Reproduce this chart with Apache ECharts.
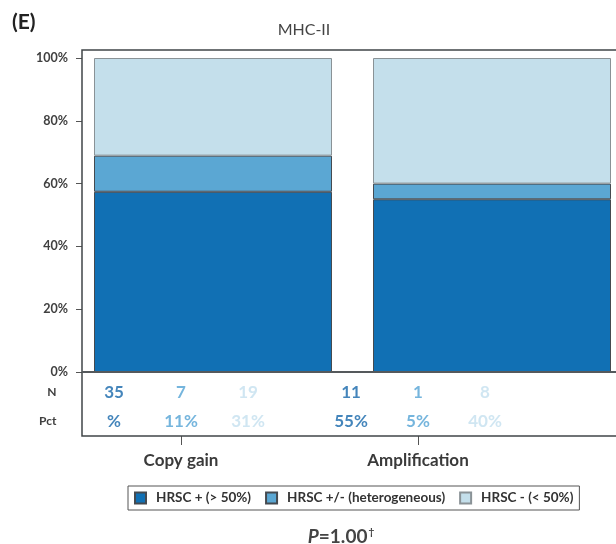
<!DOCTYPE html>
<html>
<head>
<meta charset="utf-8">
<script src="https://cdn.jsdelivr.net/npm/echarts@6/dist/echarts.min.js"></script>
<style>
  html, body { margin: 0; padding: 0; background: #fff; }
  #main { width: 616px; height: 544px; }
</style>
</head>
<body>
<div id="main"></div>
<script>
// MHC-II, HRSC staining by copy number group
var categories = ['Copy gain', 'Amplification'];
var seriesNames = ['HRSC + (> 50%)', 'HRSC +/- (heterogeneous)', 'HRSC - (< 50%)'];
var posPct = [57.4, 55];
var hetPct = [11.5, 5];
var negPct = [31.1, 40];
var posN = [35, 11];
var hetN = [7, 1];
var negN = [19, 8];
var posPctText = ['%', '55%'];
var hetPctText = ['11%', '5%'];
var negPctText = ['31%', '40%'];
var rows = ['N', 'Pct'];

var colors = ['#1170b4', '#5ba7d3', '#c4dfeb'];
var textColors = ['#1567aa', '#52a3d5', '#c4e0ef'];
var font = 'Lato, "Open Sans", sans-serif';

function tableData(nArr, pctArr) {
	var out = [];
	categories.forEach(function (c, i) {
		out.push({ name: String(nArr[i]), value: [c, 'N'] });
		out.push({ name: pctArr[i], value: [c, 'Pct'] });
	});
	return out;
}

function tableSeries(nArr, pctArr, color, dx) {
	return {
		type: 'scatter',
		xAxisIndex: 1,
		yAxisIndex: 1,
		symbolSize: 0,
		silent: true,
		data: tableData(nArr, pctArr),
		label: {
			show: true,
			position: 'inside',
			offset: [dx, 0],
			formatter: '{b}',
			color: color,
			fontFamily: font,
			fontWeight: 'bold',
			fontSize: 17
		}
	};
}

var barStyle = function (c) {
	return { color: c, borderColor: '#454a50', borderWidth: 1 };
};

var dom = document.getElementById('main');
var myChart = echarts.init(dom, null, { renderer: 'canvas' });
var option = {
	animation: false,
	textStyle: { fontFamily: font },
	title: [{
		text: 'MHC-II',
		left: 299,
		top: 17,
		textAlign: 'center',
		textStyle: { fontSize: 16, fontWeight: 'normal', color: '#444', fontFamily: font }
	}, {
		text: '(E)',
		left: 7,
		top: 7,
		textStyle: { fontSize: 21, fontWeight: 'bold', color: '#222', fontFamily: font }
	}, {
		text: '{i|P}{n|=1.00}{s|†}',
		left: 336,
		top: 522,
		textAlign: 'center',
		textStyle: {
			rich: {
				i: { fontSize: 19, fontStyle: 'italic', color: '#444', fontFamily: font },
				n: { fontSize: 19, color: '#444', fontFamily: font },
				s: { fontSize: 10, color: '#444', fontFamily: font, verticalAlign: 'top', padding: [0, 0, 9, 1] }
			}
		}
	}],
	legend: {
		data: seriesNames,
		left: 128,
		top: 486,
		icon: 'rect',
		itemWidth: 11,
		itemHeight: 11,
		itemGap: 14,
		borderColor: '#555',
		borderWidth: 1,
		padding: [5, 6, 5, 6],
		selectedMode: false,
		textStyle: { fontSize: 13.5, fontWeight: 'bold', color: '#333', fontFamily: font, padding: [0, 0, 0, 5] }
	},
	grid: [
		{ left: 213, top: 58, width: 279, height: 314 },
		{ left: 62.5, top: 378, width: 474, height: 58 }
	],
	xAxis: [{
		type: 'category',
		gridIndex: 0,
		data: categories,
		boundaryGap: false,
		axisLine: { show: false },
		axisTick: { show: false },
		axisLabel: { show: false }
	}, {
		type: 'category',
		gridIndex: 1,
		data: categories,
		axisLine: { show: false },
		axisTick: { show: true, alignWithLabel: true, length: 9, lineStyle: { color: '#555', width: 1 } },
		axisLabel: { margin: 16, fontSize: 17, fontWeight: 'bold', color: '#3a3a3a', fontFamily: font }
	}],
	yAxis: [{
		type: 'value',
		gridIndex: 0,
		min: 0,
		max: 100,
		interval: 20,
		offset: 131,
		splitLine: { show: false },
		axisLine: { show: false },
		axisTick: { show: true, length: 6, lineStyle: { color: '#555' } },
		axisLabel: { margin: 14, formatter: '{value}%', fontSize: 12.5, fontWeight: 'bold', color: '#404040', fontFamily: font }
	}, {
		type: 'category',
		gridIndex: 1,
		data: rows,
		inverse: true,
		axisLine: { show: false },
		axisTick: { show: false },
		axisLabel: { margin: 6, fontSize: 12, fontWeight: 'bold', color: '#404040', fontFamily: font }
	}],
	graphic: [{
		type: 'rect',
		shape: { x: 82, y: 50, width: 560, height: 386 },
		style: { fill: 'none', stroke: '#404548', lineWidth: 1.5 },
		z: 100
	}, {
		type: 'line',
		shape: { x1: 82, y1: 372, x2: 620, y2: 372 },
		style: { stroke: '#55595c', lineWidth: 2 },
		z: 100
	}],
	series: [{
		name: seriesNames[0],
		type: 'bar',
		stack: 'all',
		barWidth: 238,
		itemStyle: barStyle(colors[0]),
		data: posPct
	}, {
		name: seriesNames[1],
		type: 'bar',
		stack: 'all',
		barWidth: 238,
		itemStyle: barStyle(colors[1]),
		data: hetPct
	}, {
		name: seriesNames[2],
		type: 'bar',
		stack: 'all',
		barWidth: 238,
		itemStyle: { color: colors[2], borderColor: '#8a9296', borderWidth: 1 },
		data: negPct
	},
	tableSeries(posN, posPctText, textColors[0], -67),
	tableSeries(hetN, hetPctText, textColors[1], 0),
	tableSeries(negN, negPctText, textColors[2], 67)
	]
};
if (option && typeof option === "object") {
	myChart.setOption(option, true);
}
</script>
</body>
</html>
